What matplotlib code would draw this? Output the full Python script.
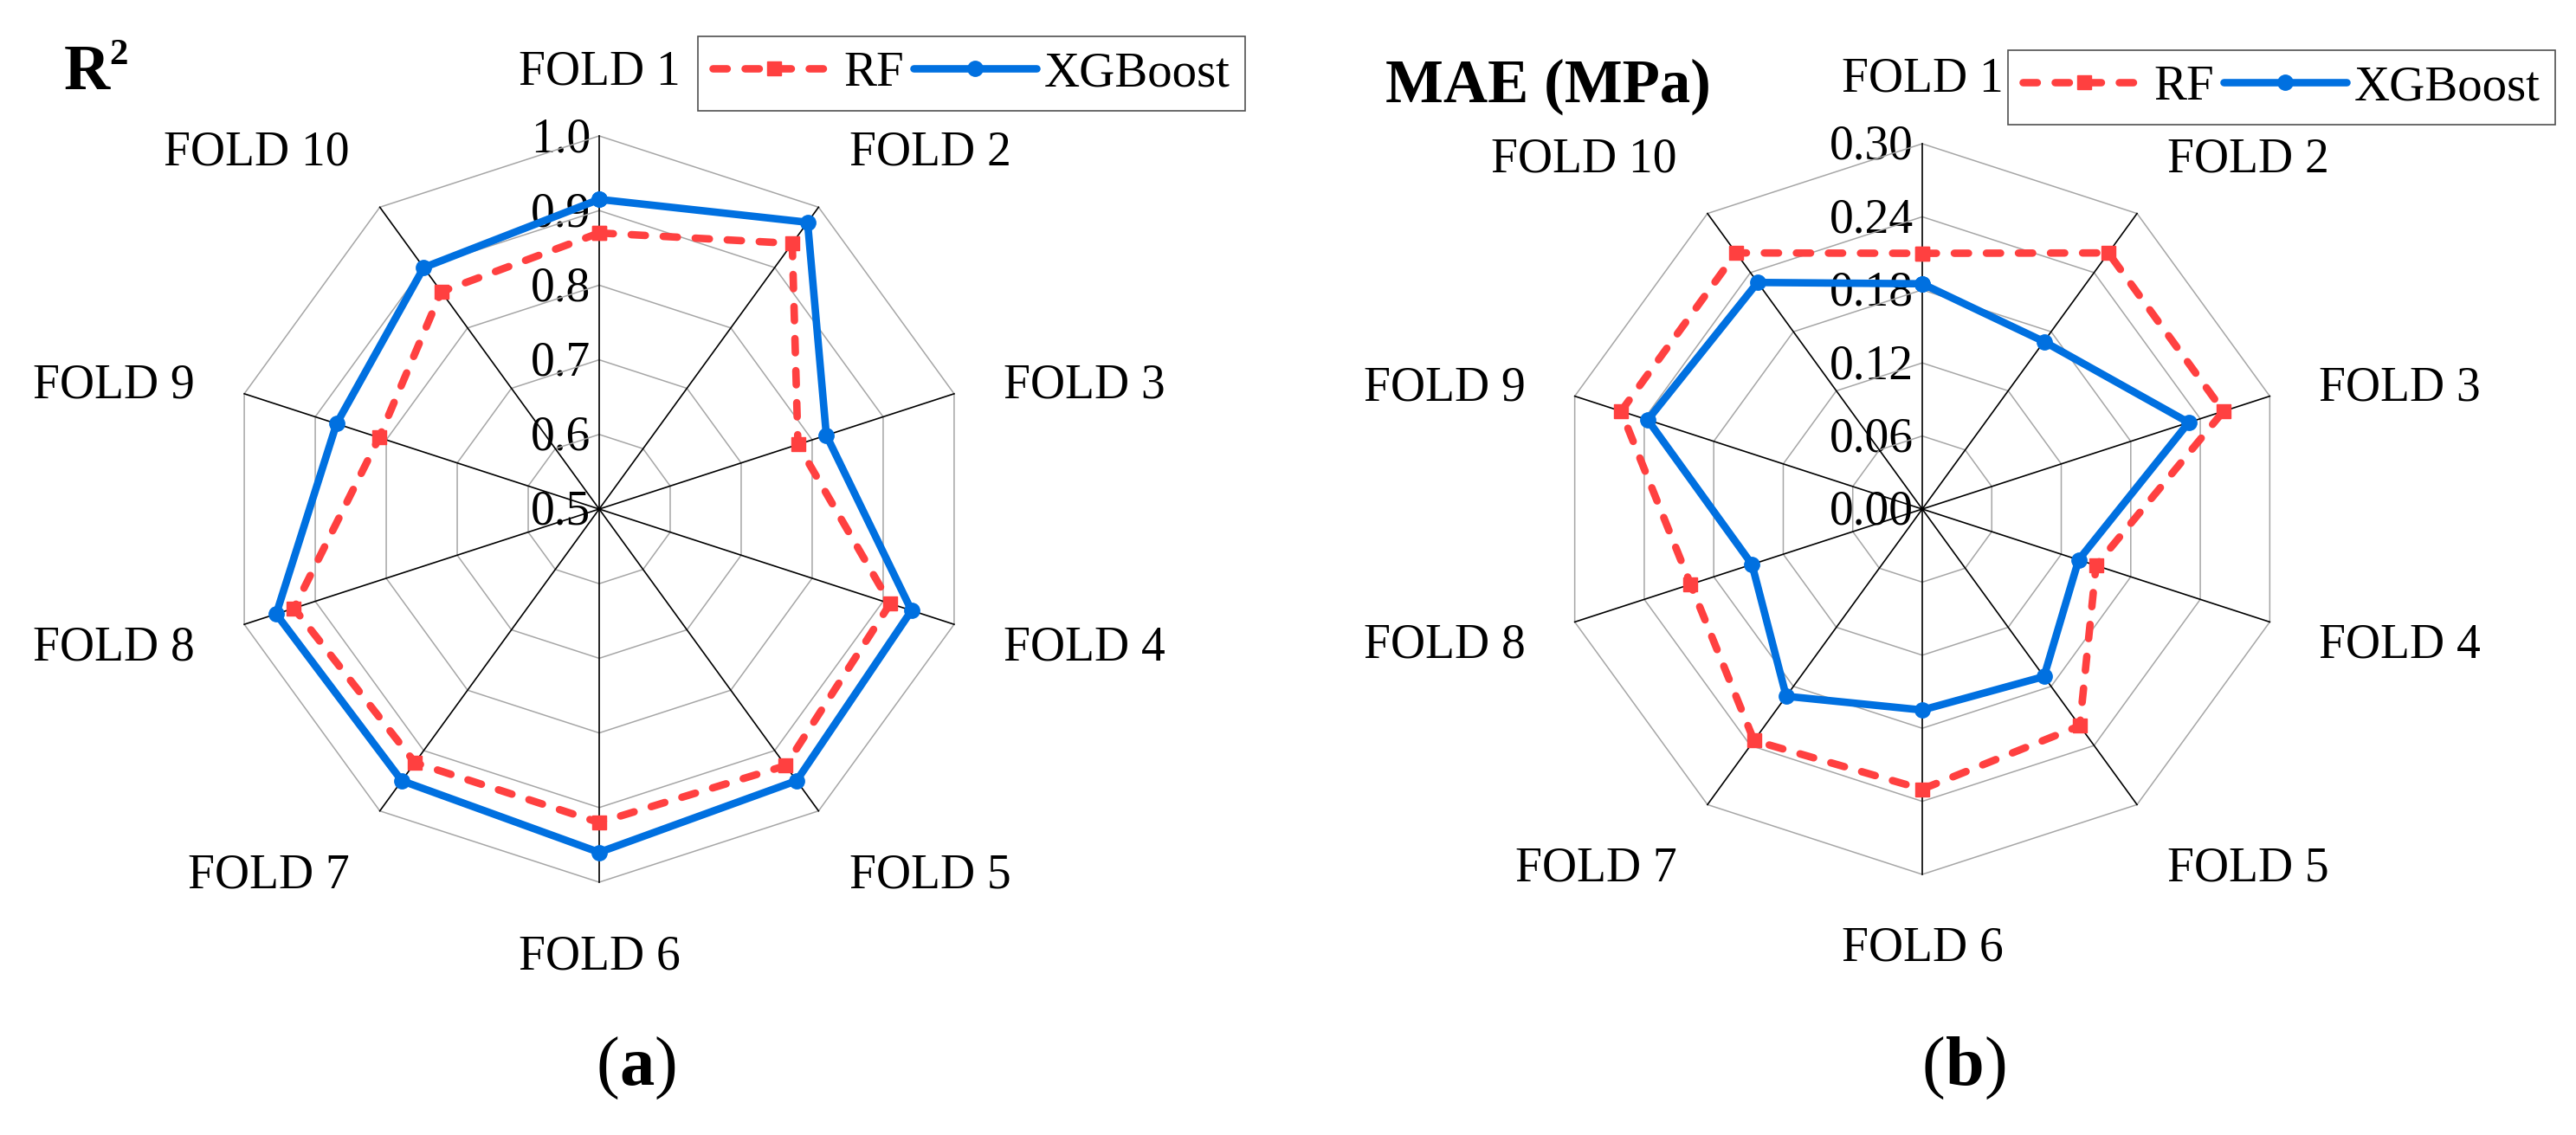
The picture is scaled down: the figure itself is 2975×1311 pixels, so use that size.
import numpy as np
import matplotlib
matplotlib.use('Agg')
import matplotlib.pyplot as plt
import matplotlib.transforms as mtransforms
from matplotlib.offsetbox import TextArea, HPacker, AnnotationBbox

plt.rcParams['font.family'] = ['Liberation Serif', 'DejaVu Serif']

# ---------------- data ----------------
folds = ['FOLD 1', 'FOLD 2', 'FOLD 3', 'FOLD 4', 'FOLD 5',
         'FOLD 6', 'FOLD 7', 'FOLD 8', 'FOLD 9', 'FOLD 10']
r2_rf = [0.87, 0.94, 0.78, 0.91, 0.925, 0.92, 0.92, 0.93, 0.81, 0.86]
r2_xgb = [0.915, 0.975, 0.82, 0.94, 0.95, 0.96, 0.95, 0.955, 0.87, 0.90]
mae_rf = [0.21, 0.26, 0.26, 0.15, 0.22, 0.23, 0.235, 0.20, 0.26, 0.26]
mae_xgb = [0.185, 0.17, 0.23, 0.135, 0.17, 0.165, 0.19, 0.147, 0.237, 0.23]
r2_ticks = [0.5, 0.6, 0.7, 0.8, 0.9, 1.0]
r2_ticklabels = ['0.5', '0.6', '0.7', '0.8', '0.9', '1.0']
mae_ticks = [0.00, 0.06, 0.12, 0.18, 0.24, 0.30]
mae_ticklabels = ['0.00', '0.06', '0.12', '0.18', '0.24', '0.30']
series_names = ['RF', 'XGBoost']

# ---------------- style ----------------
W, H = 2975, 1311
DPI = 100
RED = '#FF4040'
BLUE = '#0070E0'
FS = 40

fig = plt.figure(figsize=(W / DPI, H / DPI), dpi=DPI)


def add_polar(cx, cy, R):
    rect = [(cx - R) / W, (H - cy - R) / H, 2 * R / W, 2 * R / H]
    ax = fig.add_axes(rect, projection='polar')
    ax.set_theta_zero_location('N')
    ax.set_theta_direction(-1)
    ax.grid(False)
    ax.spines['polar'].set_visible(False)
    ax.set_xticks([])
    ax.set_yticks([])
    ax.patch.set_alpha(0)
    return ax


def draw_panel(ax, rf, xgb, ticks, ticklabels):
    n = len(folds)
    th = np.linspace(0, 2 * np.pi, n, endpoint=False)
    thc = np.append(th, th[0])
    rmin, rmax = ticks[0], ticks[-1]
    ax.set_ylim(rmin, rmax)
    # rings
    for t in ticks[1:]:
        ax.plot(thc, [t] * (n + 1), color='#A6A6A6', lw=1.1, zorder=1,
                clip_on=False)
    # spokes
    for a in th:
        ax.plot([a, a], [rmin, rmax], color='black', lw=1.2, zorder=1.2,
                clip_on=False)
    # tick labels
    tr = mtransforms.offset_copy(ax.transData, fig=fig, x=-10, y=-4,
                                 units='dots')
    for t, lab in zip(ticks, ticklabels):
        ax.text(0, t, lab, transform=tr, ha='right', va='center',
                fontsize=FS, zorder=0.5, clip_on=False)
    # series
    l1, = ax.plot(thc, list(rf) + [rf[0]], color=RED, lw=6.2,
                  linestyle=(0, (1.9, 2.4)), dash_capstyle='round',
                  marker='s', markersize=11, zorder=3, clip_on=False,
                  label=series_names[0])
    l2, = ax.plot(thc, list(xgb) + [xgb[0]], color=BLUE, lw=6.2,
                  marker='o', markersize=12.5, zorder=4, clip_on=False,
                  solid_capstyle='round', solid_joinstyle='round',
                  label=series_names[1])
    # category labels
    pad = 60
    for a, lab in zip(th, folds):
        s, c = np.sin(a), np.cos(a)
        if abs(s) < 0.1:
            ha = 'center'
        else:
            ha = 'left' if s > 0 else 'right'
        dy = 0
        if c > 0.5:
            va = 'baseline'
        elif c < -0.5:
            va = 'top'
        else:
            va = 'center'
            dy = -9
        trl = mtransforms.offset_copy(ax.transData, fig=fig, x=pad * s,
                                      y=pad * c + dy, units='dots')
        ax.text(a, rmax, lab, transform=trl, ha=ha, va=va, fontsize=FS,
                clip_on=False)
    return l1, l2


ax1 = add_polar(692, 588, 431)
h1 = draw_panel(ax1, r2_rf, r2_xgb, r2_ticks, r2_ticklabels)
ax2 = add_polar(2220, 588, 422)
h2 = draw_panel(ax2, mae_rf, mae_xgb, mae_ticks, mae_ticklabels)


def add_legend(handles, x, y):
    leg = fig.legend(handles=handles, labels=series_names, ncol=2,
                     loc='upper left', bbox_to_anchor=(x / W, 1 - y / H),
                     bbox_transform=fig.transFigure, borderaxespad=0,
                     fontsize=FS + 1, handlelength=2.5, handletextpad=0.15,
                     columnspacing=0.2, borderpad=0.3, fancybox=False,
                     framealpha=1, edgecolor='#505050')
    leg.get_frame().set_linewidth(1.2)
    return leg


add_legend(list(h1), 806, 42)
add_legend(list(h2), 2319, 58)

# titles
fig.text(74 / W, 1 - 103 / H, 'R', fontsize=53, fontweight='bold',
         ha='left', va='baseline')
fig.text(126 / W, 1 - 74 / H, '2', fontsize=31, fontweight='bold',
         ha='left', va='baseline')
fig.text(1600 / W, 1 - 118 / H, 'MAE (MPa)', fontsize=51, fontweight='bold',
         ha='left', va='baseline')


def panel_label(letter, x, y):
    reg = dict(fontsize=58, fontweight='normal')
    bld = dict(fontsize=58, fontweight='bold')
    box = HPacker(children=[TextArea('(', textprops=reg),
                            TextArea(letter, textprops=bld),
                            TextArea(')', textprops=reg)],
                  align='baseline', pad=0, sep=0)
    ab = AnnotationBbox(box, (x, H - y), xycoords='figure pixels',
                        box_alignment=(0.5, 0.5), frameon=False)
    fig.add_artist(ab)


panel_label('a', 735, 1234)
panel_label('b', 2269, 1234)

fig.savefig('out.png', dpi=DPI)
